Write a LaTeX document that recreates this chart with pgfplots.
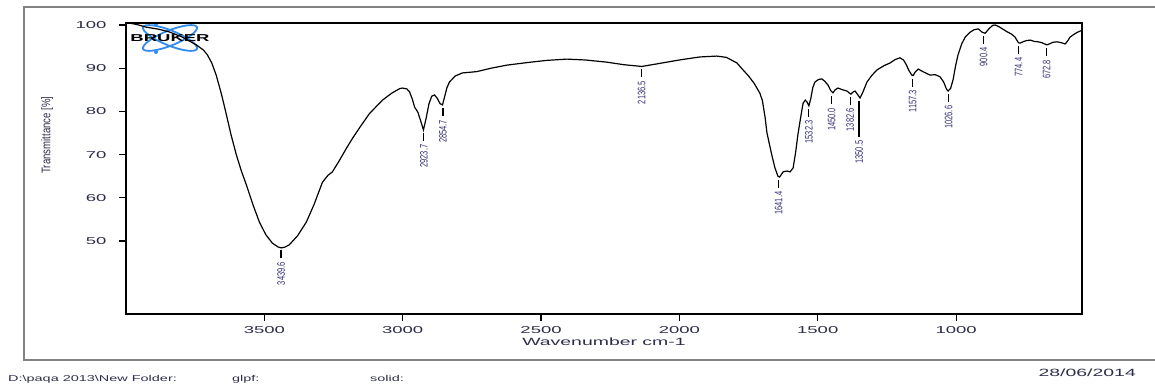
\documentclass[border=0pt]{standalone}
\usepackage{fontspec}
\setmainfont{Liberation Sans}
\newfontfamily\wide[FakeStretch=1.85]{Liberation Sans}
\newfontfamily\widefoot[FakeStretch=1.7]{Liberation Sans}
\usepackage{graphicx}
\usepackage{pgfplots}
\usepackage{pgfplotstable}
\pgfplotsset{compat=1.18}
\definecolor{textcol}{RGB}{45,45,75}
\definecolor{labcol}{RGB}{50,45,115}
\definecolor{logoblue}{RGB}{50,140,235}
\definecolor{framegray}{RGB}{130,130,130}

\pgfdeclareplotmark{pkshort}{\pgfpathmoveto{\pgfqpoint{0pt}{0pt}}\pgfpathlineto{\pgfqpoint{0pt}{-8pt}}\pgfusepathqstroke}
\pgfdeclareplotmark{pklong}{\pgfpathmoveto{\pgfqpoint{0pt}{0pt}}\pgfpathlineto{\pgfqpoint{0pt}{-36pt}}\pgfusepathqstroke}

\pgfplotstableread{
wn T
4000 100.6
3960 100.1
3927 99.5
3880 99.0
3844 98.4
3800 97.3
3746 95.4
3720 94.2
3706 93.1
3690 91.2
3674 88.4
3655 84.0
3637 79.2
3620 74.5
3601 69.9
3583 66.2
3565 63.0
3540 58.2
3518 54.4
3495 51.5
3471 49.5
3450 48.6
3438 48.4
3425 48.6
3410 49.1
3380 51.2
3348 54.4
3320 58.5
3290 63.6
3270 65.2
3254 66.0
3230 68.5
3203 71.5
3180 73.9
3156 76.2
3120 79.5
3073 82.6
3040 84.2
3010 85.3
3000 85.4
2985 85.2
2975 84.5
2965 82.8
2957 81.0
2945 79.8
2935 77.8
2925 75.7
2915 78.5
2905 81.8
2895 83.5
2885 83.8
2875 83.0
2865 81.8
2856 81.5
2848 83.5
2840 85.5
2831 86.8
2810 88.2
2784 88.9
2733 89.2
2680 90.0
2624 90.7
2550 91.3
2480 91.8
2407 92.1
2340 91.9
2263 91.4
2200 90.8
2136 90.4
2090 90.9
2045 91.4
1990 92.0
1926 92.6
1865 92.8
1830 92.5
1792 91.2
1770 89.6
1750 88.2
1730 86.5
1709 84.2
1700 82.5
1690 78.5
1684 75.2
1675 72.5
1666 69.9
1655 67.0
1644 65.0
1638 64.8
1625 66.0
1611 66.2
1600 66.0
1589 66.9
1580 70.5
1572 74.5
1562 78.5
1553 81.9
1545 82.6
1539 82.2
1532 81.3
1525 83.0
1518 85.5
1510 86.8
1497 87.4
1485 87.5
1475 87.0
1463 86.1
1453 84.8
1445 84.3
1437 85.0
1427 85.4
1410 85.0
1394 84.7
1385 84.2
1380 84.0
1372 84.5
1365 84.7
1357 84.0
1347 83.1
1338 84.3
1322 86.8
1305 88.3
1286 89.6
1260 90.6
1239 91.2
1220 92.0
1203 92.4
1190 91.9
1180 90.8
1170 89.4
1160 88.4
1155 88.3
1148 89.1
1137 89.8
1120 89.2
1094 88.4
1075 88.5
1058 88.0
1045 86.8
1035 85.2
1029 84.7
1020 85.3
1011 87.3
1002 90.5
993 93.1
980 95.6
967 97.2
950 98.3
935 98.9
920 99.1
905 98.3
895 98.1
880 99.2
868 99.9
859 100.0
845 99.6
830 99.0
815 98.4
800 97.9
787 97.2
775 95.9
769 95.8
755 96.2
745 96.4
732 96.5
718 96.2
703 96.1
690 95.9
680 95.6
671 95.4
660 95.7
650 96.0
635 96.1
620 95.9
606 95.6
598 96.2
588 97.2
575 97.8
562 98.3
551 98.6
545 98.8
}\spectrum

\pgfplotstableread{
x y lab
3439.6 47.8 3439.6
2923.7 75.0 2923.7
2854.7 80.7 2854.7
2136.5 89.7 2136.5
1641.4 64.1 1641.4
1532.3 80.6 1532.3
1450.0 83.5 1450.0
1382.6 83.4 1382.6
1157.3 87.6 1157.3
1026.6 84.0 1026.6
900.4 97.5 900.4
774.4 95.1 774.4
672.8 94.6 672.8
}\peaks

\pgfplotstableread{
x y lab
1350.5 82.4 1350.5
}\peaklong

\begin{document}
\begin{tikzpicture}
\useasboundingbox (0pt,0pt) rectangle (1155pt,385pt);
% outer frame
\draw[framegray, line width=1.3pt] (1155pt,378pt) -- (24pt,378pt) -- (24pt,25pt) -- (1155pt,25pt);
% logo
\begin{scope}[shift={(170pt,347pt)}]
\draw[logoblue, line width=1.8pt, rotate=22] (0,0) ellipse (29pt and 7.5pt);
\draw[logoblue, line width=1.8pt, rotate=-22] (0,0) ellipse (29pt and 7.5pt);
\fill[logoblue] (-14pt,14pt) circle (2pt);
\fill[logoblue] (-14pt,-14pt) circle (2pt);
\node[font=\wide\bfseries\fontsize{10}{12}\selectfont, inner sep=0pt] at (0pt,-0.5pt) {BRUKER};
\end{scope}
\begin{axis}[
  at={(126pt,71pt)}, anchor=south west,
  scale only axis, width=956pt, height=291pt,
  x dir=reverse,
  xmin=545, xmax=4000, ymin=33.1, ymax=100.46,
  xtick={1000,1500,2000,2500,3000,3500},
  ytick={50,60,70,80,90,100},
  xtick pos=bottom, ytick pos=left,
  tick align=outside, major tick length=7pt,
  axis line style={line width=1.4pt},
  tick style={line width=1.2pt, black},
  /pgf/number format/assume math mode=true,
  /pgf/number format/1000 sep={},
  tick label style={font=\wide\fontsize{10}{12}\selectfont, text=textcol},
  yticklabel style={xshift=-9pt},
  xticklabel style={yshift=-2pt},
  xlabel={Wavenumber cm-1},
  xlabel style={font=\wide\fontsize{10.5}{12}\selectfont, text=textcol, at={(axis description cs:0.5,-0.096)}, anchor=center},
  ylabel={\scalebox{1}[1.3]{Transmittance [\%]}},
  ylabel style={font=\fontsize{9.6}{11}\selectfont, text=textcol, at={(axis description cs:-0.0826,0.615)}, anchor=center},
]
\addplot[black, line width=1.2pt, mark=none] table[x=wn, y=T] {\spectrum};
\addplot[only marks, mark=pkshort, mark options={line width=1.3pt, black},
  point meta=explicit symbolic,
  nodes near coords={\scalebox{1}[1.45]{\pgfplotspointmeta}},
  every node near coord/.append style={font=\fontsize{7.5}{8}\selectfont, text=labcol, yshift=-11pt, rotate=90, anchor=east, inner sep=0pt}
] table[x=x, y=y, meta=lab] {\peaks};
\addplot[only marks, mark=pklong, mark options={line width=1.3pt, black},
  point meta=explicit symbolic,
  nodes near coords={\scalebox{1}[1.45]{\pgfplotspointmeta}},
  every node near coord/.append style={font=\fontsize{7.5}{8}\selectfont, text=labcol, yshift=-39pt, rotate=90, anchor=east, inner sep=0pt}
] table[x=x, y=y, meta=lab] {\peaklong};
\end{axis}
\node[anchor=base west, font=\widefoot\fontsize{8.5}{10}\selectfont, text=textcol, inner sep=0pt] at (8pt,4pt) {D:\textbackslash paqa 2013\textbackslash New Folder:};
\node[anchor=base west, font=\widefoot\fontsize{8.5}{10}\selectfont, text=textcol, inner sep=0pt] at (232pt,4pt) {glpf:};
\node[anchor=base west, font=\widefoot\fontsize{8.5}{10}\selectfont, text=textcol, inner sep=0pt] at (370pt,4pt) {solid:};
\node[anchor=base east, font=\wide\fontsize{10.5}{12}\selectfont, text=textcol, inner sep=0pt] at (1136pt,9pt) {28/06/2014};
\end{tikzpicture}
\end{document}
